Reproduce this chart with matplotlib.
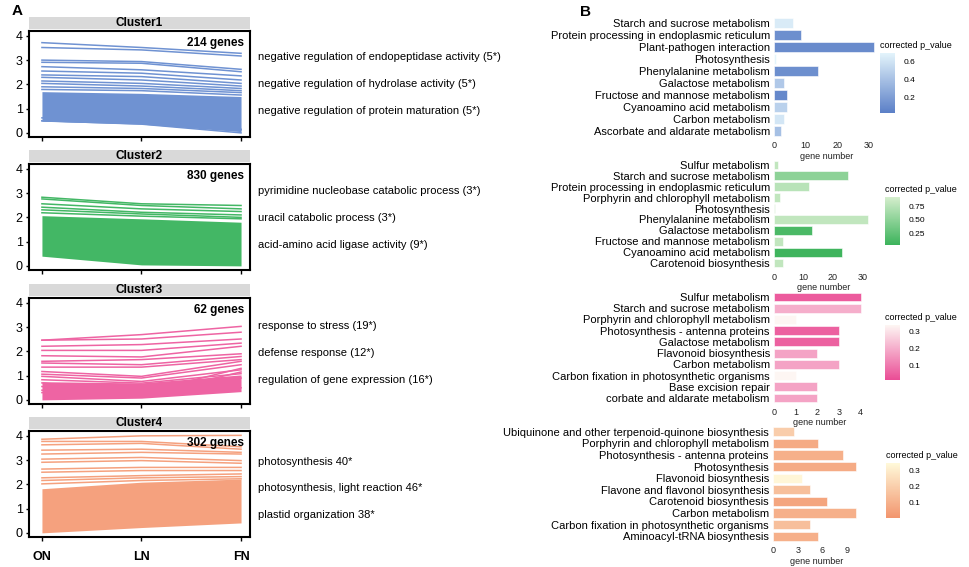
import numpy as np
import matplotlib
matplotlib.use("Agg")
import matplotlib.pyplot as plt
from matplotlib.colors import LinearSegmentedColormap, Normalize
from matplotlib.cm import ScalarMappable

plt.rcParams['font.family'] = ['Liberation Sans', 'DejaVu Sans']

W, H = 970, 567

# ---------------- panel A data ----------------
stages = ['ON', 'LN', 'FN']
cluster_names = ['Cluster1', 'Cluster2', 'Cluster3', 'Cluster4']
gene_counts = ['214 genes', '830 genes', '62 genes', '302 genes']
cluster_colors = ['#6f92d2', '#43b765', '#ee64a3', '#f5a17e']

# dense band of profiles (lower / upper edge at ON, LN, FN)
band_low = [[0.48, 0.36, 0.05], [0.40, 0.04, 0.0], [0.0, 0.07, 0.34], [0.0, 0.22, 0.41]]
band_high = [[1.70, 1.63, 1.50], [2.07, 1.94, 1.80], [0.75, 0.70, 1.03], [1.82, 2.09, 2.22]]

# individual profiles visible above / around the band
c1_lines = [[3.72, 3.52, 3.28], [3.52, 3.42, 3.17], [3.00, 2.94, 2.62], [2.91, 2.87, 2.52],
            [2.73, 2.60, 2.35], [2.55, 2.46, 2.18], [2.39, 2.32, 2.04], [2.29, 2.18, 1.93],
            [2.14, 2.04, 1.83], [2.04, 1.93, 1.74], [1.90, 1.83, 1.66], [1.79, 1.74, 1.56],
            [0.50, 0.36, 0.00], [0.50, 0.40, 0.15], [0.62, 0.45, 0.12]]
c2_lines = [[2.83, 2.56, 2.49], [2.76, 2.49, 2.35], [2.56, 2.35, 2.24], [2.42, 2.21, 2.10],
            [2.31, 2.14, 2.00], [2.19, 2.05, 1.94]]
c3_lines = [[2.46, 2.69, 3.03], [2.46, 2.51, 2.79], [2.21, 2.28, 2.51], [2.04, 2.04, 2.34],
            [1.82, 1.77, 2.21], [1.59, 1.66, 1.90], [1.52, 1.45, 1.79], [1.35, 1.35, 1.66],
            [1.17, 0.97, 1.59], [1.06, 0.90, 1.45], [0.97, 0.76, 1.24], [0.83, 0.69, 1.08],
            [0.70, 0.30, 1.30], [0.55, 0.20, 1.15], [0.40, 0.15, 0.90], [0.30, 0.40, 0.50]]
c4_lines = [[3.86, 4.00, 4.02], [3.77, 3.77, 3.55], [3.63, 3.69, 3.45], [3.41, 3.45, 3.32],
            [3.25, 3.32, 3.25], [3.04, 3.11, 2.98], [2.91, 2.98, 2.87], [2.63, 2.70, 2.70],
            [2.50, 2.57, 2.57], [2.27, 2.36, 2.43], [2.16, 2.27, 2.32], [2.02, 2.16, 2.23]]
cluster_lines = [c1_lines, c2_lines, c3_lines, c4_lines]

go_terms = [
    ['negative regulation of endopeptidase activity (5*)',
     'negative regulation of hydrolase activity (5*)',
     'negative regulation of protein maturation (5*)'],
    ['pyrimidine nucleobase catabolic process (3*)',
     'uracil catabolic process (3*)',
     'acid-amino acid ligase activity (9*)'],
    ['response to stress (19*)',
     'defense response (12*)',
     'regulation of gene expression (16*)'],
    ['photosynthesis 40*',
     'photosynthesis, light reaction 46*',
     'plastid organization 38*'],
]
go_y = [[57, 84, 111], [191, 218, 245], [326, 353, 380], [462, 488, 515]]

# ---------------- panel B data ----------------
kegg1 = ['Starch and sucrose metabolism', 'Protein processing in endoplasmic reticulum',
         'Plant-pathogen interaction', 'Photosynthesis', 'Phenylalanine metabolism',
         'Galactose metabolism', 'Fructose and mannose metabolism', 'Cyanoamino acid metabolism',
         'Carbon metabolism', 'Ascorbate and aldarate metabolism']
count1 = [6, 8.5, 31.4, 0.5, 14, 3, 4, 4, 3, 2.2]
padj1 = [0.65, 0.12, 0.10, 0.70, 0.12, 0.45, 0.08, 0.50, 0.62, 0.40]

kegg2 = ['Sulfur metabolism', 'Starch and sucrose metabolism',
         'Protein processing in endoplasmic reticulum', 'Porphyrin and chlorophyll metabolism',
         'Photosynthesis', 'Phenylalanine metabolism', 'Galactose metabolism',
         'Fructose and mannose metabolism', 'Cyanoamino acid metabolism', 'Carotenoid biosynthesis']
count2 = [1.2, 25, 12, 2, 0.5, 32, 13, 3, 23, 3]
padj2 = [0.80, 0.50, 0.75, 0.80, 0.85, 0.80, 0.12, 0.80, 0.05, 0.80]

kegg3 = ['Sulfur metabolism', 'Starch and sucrose metabolism',
         'Porphyrin and chlorophyll metabolism', 'Photosynthesis - antenna proteins',
         'Galactose metabolism', 'Flavonoid biosynthesis', 'Carbon metabolism',
         'Carbon fixation in photosynthetic organisms', 'Base excision repair',
         'corbate and aldarate metabolism']
count3 = [4, 4, 1, 3, 3, 2, 3, 1, 2, 2]
padj3 = [0.04, 0.20, 0.34, 0.05, 0.05, 0.18, 0.18, 0.34, 0.18, 0.18]

kegg4 = ['Ubiquinone and other terpenoid-quinone biosynthesis',
         'Porphyrin and chlorophyll metabolism', 'Photosynthesis - antenna proteins',
         'Photosynthesis', 'Flavonoid biosynthesis', 'Flavone and flavonol biosynthesis',
         'Carotenoid biosynthesis', 'Carbon metabolism',
         'Carbon fixation in photosynthetic organisms', 'Aminoacyl-tRNA biosynthesis']
count4 = [2.5, 5.5, 8.5, 10, 3.5, 4.5, 6.5, 10, 4.5, 5.5]
padj4 = [0.20, 0.08, 0.10, 0.08, 0.34, 0.15, 0.06, 0.10, 0.15, 0.10]


def px_axes(fig, x0, y0, x1, y1):
    return fig.add_axes([x0 / W, 1 - y1 / H, (x1 - x0) / W, (y1 - y0) / H])


fig = plt.figure(figsize=(9.7, 5.67), dpi=100)
fig.patch.set_facecolor('white')

fig.text(12 / W, 1 - 11 / H, 'A', fontsize=11, fontweight='bold', va='center', ha='left')
fig.text(580 / W, 1 - 12 / H, 'B', fontsize=11, fontweight='bold', va='center', ha='left')

# ---------------- panel A ----------------
tops = [31, 164, 298, 431]
x = np.arange(3)
for i in range(4):
    top = tops[i]
    ax = px_axes(fig, 29, top, 250, top + 106)
    col = cluster_colors[i]
    ax.fill_between(x, band_low[i], band_high[i], color=col, lw=0)
    for ln in cluster_lines[i]:
        ax.plot(x, ln, color=col, lw=1.1)
    ax.set_xlim(-0.13, 2.09)
    ax.set_ylim(-0.17, 4.2)
    ax.set_yticks([0, 1, 2, 3, 4])
    ax.set_xticks(x)
    if i == 3:
        ax.set_xticklabels(stages, fontsize=9, fontweight='bold')
    else:
        ax.set_xticklabels([])
    ax.tick_params(axis='y', labelsize=9, length=2.5, width=1, colors='black', pad=2)
    ax.tick_params(axis='x', length=3, width=1, colors='black', pad=7)
    for sp in ax.spines.values():
        sp.set_linewidth(1.5)
    ax.text(0.975, 0.94, gene_counts[i], transform=ax.transAxes, ha='right', va='top',
            fontsize=8.5, fontweight='bold')
    # facet strip
    sax = px_axes(fig, 29, top - 14, 250, top - 2)
    sax.set_facecolor('#d9d9d9')
    sax.set_xticks([])
    sax.set_yticks([])
    for sp in sax.spines.values():
        sp.set_visible(False)
    sax.text(0.5, 0.5, cluster_names[i], ha='center', va='center', fontsize=8.5,
             fontweight='bold', transform=sax.transAxes)
    # GO terms
    for term, ty in zip(go_terms[i], go_y[i]):
        fig.text(258 / W, 1 - ty / H, term, fontsize=8, va='center', ha='left')

# ---------------- panel B ----------------
bar_panels = [
    (kegg1, count1, padj1, (17, 137), 774, 33, 3.17, [0, 10, 20, 30],
     ['#5b7fc7', '#e3f4fb'], (0.03, 0.70), [0.2, 0.4, 0.6], (880, 53, 895, 113)),
    (kegg2, count2, padj2, (159.5, 268.5), 774, 34, 2.94, [0, 10, 20, 30],
     ['#3cb35b', '#d5eecd'], (0.03, 0.92), [0.25, 0.5, 0.75], (885, 197, 900, 245)),
    (kegg3, count3, padj3, (291.4, 403.6), 774, 4.2, 21.7, [0, 1, 2, 3, 4],
     ['#ea4c95', '#fdf6f3'], (0.01, 0.34), [0.1, 0.2, 0.3], (885, 325, 900, 380)),
    (kegg4, count4, padj4, (426, 542), 773, 10.5, 8.26, [0, 3, 6, 9],
     ['#f2956d', '#fff9da'], (0.006, 0.35), [0.1, 0.2, 0.3], (886, 463, 900, 518)),
]

for labels, counts, padj, (y0, y1), x0, xmax, scale, xt, cols, (vmin, vmax), cticks, cb in bar_panels:
    ax = px_axes(fig, x0, y0, x0 + xmax * scale, y1)
    cmap = LinearSegmentedColormap.from_list('c', cols)
    norm = Normalize(vmin=vmin, vmax=vmax)
    ypos = np.arange(len(labels))
    ax.barh(ypos, counts, height=0.8, color=cmap(norm(np.array(padj))),
            edgecolor='white', linewidth=0.4)
    ax.set_ylim(len(labels) - 0.5, -0.5)
    ax.set_xlim(0, xmax)
    ax.set_yticks(ypos)
    ax.set_yticklabels(labels, fontsize=8)
    ax.set_xticks(xt)
    ax.tick_params(axis='y', length=0, pad=3)
    ax.tick_params(axis='x', length=0, labelsize=6.5, pad=3, labelcolor='#222222')
    ax.set_xlabel('gene number', fontsize=6.5, labelpad=1, color='#222222')
    for sp in ax.spines.values():
        sp.set_visible(False)
    ax.patch.set_alpha(0)

    cax = px_axes(fig, cb[0], cb[1], cb[2], cb[3])
    sm = ScalarMappable(norm=norm, cmap=cmap)
    cbar = fig.colorbar(sm, cax=cax)
    cbar.outline.set_visible(False)
    cbar.set_ticks(cticks)
    cbar.ax.tick_params(labelsize=6, length=3, color='white', width=0.8, pad=3)
    fig.text(cb[0] / W, 1 - (cb[1] - 7) / H, 'corrected p_value', fontsize=6.5,
             ha='left', va='center')

fig.savefig('out.png', dpi=100)
